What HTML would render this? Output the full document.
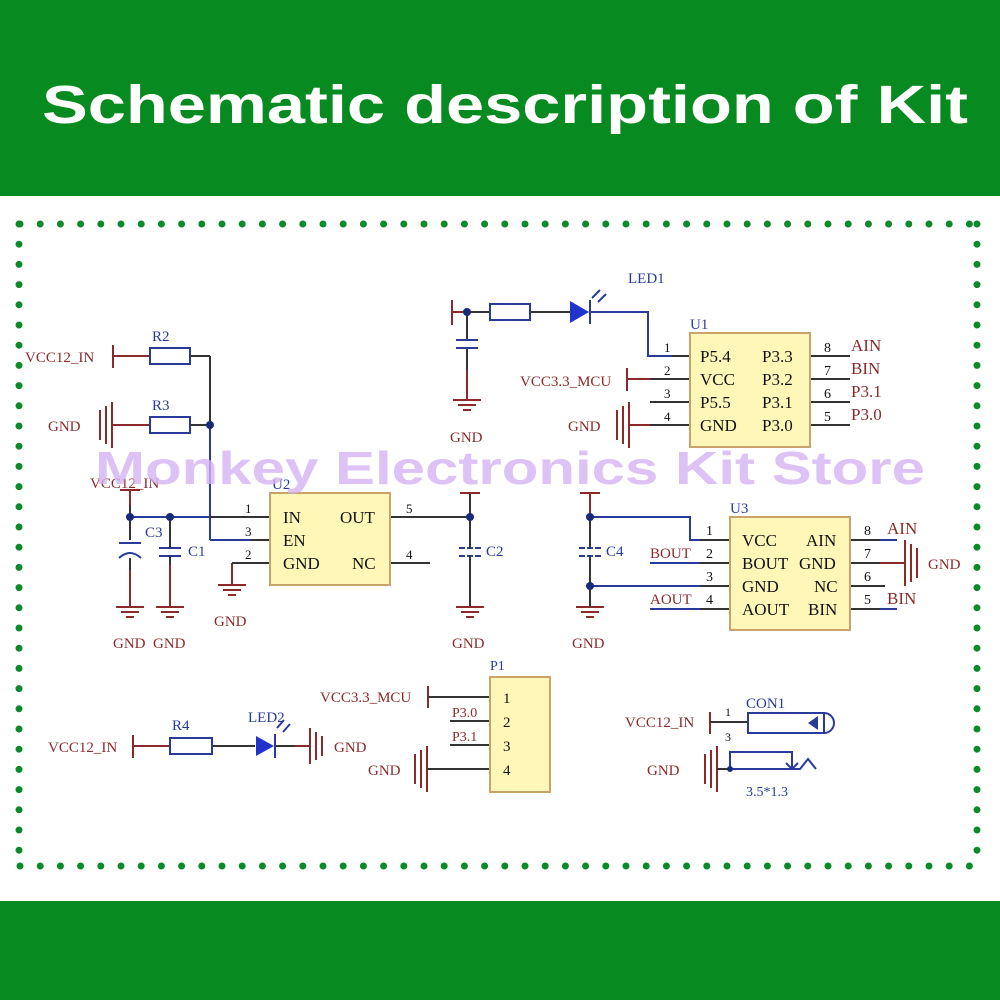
<!DOCTYPE html>
<html><head><meta charset="utf-8"><style>
body{margin:0;width:1000px;height:1000px;overflow:hidden;background:#fff}
svg{display:block}
.s{font-family:"Liberation Serif",serif;font-size:17px}
.r{fill:#8a2a2a}.b{fill:#2a3a9a}.k{fill:#111}
</style></head><body>
<svg width="1000" height="1000" viewBox="0 0 1000 1000" xmlns="http://www.w3.org/2000/svg">
<rect x="0" y="0" width="1000" height="196" fill="#078a1f"/>
<rect x="0" y="901" width="1000" height="99" fill="#078a1f"/>
<text x="505" y="123" text-anchor="middle" fill="#fff" font-family="Liberation Sans,sans-serif" font-weight="bold" font-size="54" textLength="926" lengthAdjust="spacingAndGlyphs">Schematic description of Kit</text>
<!-- dotted border -->
<g stroke="#0a8a28" stroke-width="7" stroke-linecap="round" stroke-dasharray="0 20.2" fill="none">
<line x1="20" y1="224" x2="977" y2="224"/>
<line x1="20" y1="866" x2="977" y2="866"/>
<line x1="19" y1="224" x2="19" y2="866"/>
<line x1="977" y1="224" x2="977" y2="866"/>
</g>
<g fill="none" stroke-width="2">
<!-- R2/R3 block -->
<g stroke="#8a2a2a"><line x1="113" y1="345" x2="113" y2="368"/><line x1="113" y1="356" x2="150" y2="356"/>
<line x1="100" y1="410" x2="100" y2="440"/><line x1="106" y1="406" x2="106" y2="444"/><line x1="112" y1="402" x2="112" y2="448"/><line x1="112" y1="425" x2="150" y2="425"/>
<line x1="130" y1="490" x2="130" y2="505"/><line x1="120" y1="490" x2="140" y2="490"/>
<line x1="130" y1="570" x2="130" y2="607"/><line x1="170" y1="565" x2="170" y2="607"/>
<line x1="232" y1="563" x2="232" y2="585"/></g>
<g stroke="#2a3a9a"><rect x="150" y="348" width="40" height="16" fill="#fff"/><rect x="150" y="417" width="40" height="16" fill="#fff"/>
<line x1="119" y1="543" x2="141" y2="543"/><path d="M119 558 Q130 548 141 558"/><line x1="159" y1="548" x2="181" y2="548"/><line x1="159" y1="556" x2="181" y2="556"/>
<line x1="459" y1="548" x2="481" y2="548" stroke-dasharray="6 2"/><line x1="459" y1="556" x2="481" y2="556" stroke-dasharray="6 2"/>
<line x1="130" y1="517" x2="210" y2="517"/><line x1="210" y1="425" x2="210" y2="540"/><line x1="210" y1="540" x2="250" y2="540"/>
</g>
<g stroke="#333"><line x1="190" y1="356" x2="210" y2="356"/><line x1="190" y1="425" x2="210" y2="425"/><line x1="210" y1="356" x2="210" y2="425"/>
<line x1="130" y1="505" x2="130" y2="540"/><line x1="170" y1="517" x2="170" y2="548"/><line x1="130" y1="558" x2="130" y2="570"/><line x1="170" y1="556" x2="170" y2="565"/>
<line x1="210" y1="517" x2="270" y2="517"/><line x1="250" y1="540" x2="270" y2="540"/><line x1="232" y1="563" x2="270" y2="563"/>
<line x1="390" y1="517" x2="470" y2="517"/><line x1="390" y1="563" x2="430" y2="563"/>
<line x1="470" y1="493" x2="470" y2="548"/><line x1="470" y1="556" x2="470" y2="607"/></g>
<line x1="460" y1="493" x2="480" y2="493" stroke="#8a2a2a"/>
<!-- grounds -->
<g stroke="#8a2a2a">
<path d="M116 607h28M121 612h18M126 617h8M156 607h28M161 612h18M166 617h8M218 585h28M223 590h18M228 595h8M456 607h28M461 612h18M466 617h8M576 607h28M581 612h18M586 617h8M453 400h28M458 405h18M463 410h8"/>
</g>
<rect x="270" y="493" width="120" height="92" fill="#fff7b8" stroke="#c9a46a"/>
<!-- top mid -->
<g stroke="#8a2a2a"><line x1="452" y1="300" x2="452" y2="325"/><line x1="452" y1="312" x2="467" y2="312"/><line x1="467" y1="370" x2="467" y2="400"/></g>
<g stroke="#333"><line x1="467" y1="312" x2="490" y2="312"/><line x1="530" y1="312" x2="570" y2="312"/><line x1="467" y1="312" x2="467" y2="340"/><line x1="467" y1="348" x2="467" y2="370"/></g>
<g stroke="#2a3a9a"><rect x="490" y="304" width="40" height="16" fill="#fff"/><line x1="456" y1="340" x2="478" y2="340"/><line x1="456" y1="348" x2="478" y2="348"/>
<path d="M590 312H648V356H672"/><line x1="590" y1="300" x2="590" y2="324"/><path d="M592 298l8-8M598 302l8-8"/></g>
<polygon points="570,301 570,323 589,312" fill="#2233cc"/>
<g stroke="#333"><line x1="672" y1="356" x2="690" y2="356"/><line x1="650" y1="379" x2="690" y2="379"/><line x1="650" y1="402" x2="690" y2="402"/><line x1="650" y1="425" x2="690" y2="425"/>
<line x1="810" y1="356" x2="850" y2="356"/><line x1="810" y1="379" x2="850" y2="379"/><line x1="810" y1="402" x2="850" y2="402"/><line x1="810" y1="425" x2="850" y2="425"/></g>
<g stroke="#8a2a2a"><line x1="627" y1="368" x2="627" y2="391"/><line x1="627" y1="379" x2="650" y2="379"/>
<line x1="617" y1="410" x2="617" y2="440"/><line x1="623" y1="406" x2="623" y2="444"/><line x1="629" y1="402" x2="629" y2="448"/><line x1="629" y1="425" x2="650" y2="425"/></g>
<rect x="690" y="333" width="120" height="114" fill="#fff7b8" stroke="#c9a46a"/>
<!-- U3 area -->
<g stroke="#8a2a2a"><line x1="580" y1="493" x2="600" y2="493"/><line x1="590" y1="493" x2="590" y2="517"/></g>
<g stroke="#333"><line x1="590" y1="517" x2="590" y2="548"/><line x1="590" y1="556" x2="590" y2="607"/>
<line x1="700" y1="540" x2="730" y2="540"/><line x1="700" y1="563" x2="730" y2="563"/><line x1="700" y1="586" x2="730" y2="586"/><line x1="700" y1="609" x2="730" y2="609"/>
<line x1="850" y1="540" x2="880" y2="540"/><line x1="850" y1="563" x2="880" y2="563"/><line x1="850" y1="586" x2="885" y2="586"/><line x1="850" y1="609" x2="880" y2="609"/></g>
<g stroke="#2a3a9a"><line x1="579" y1="548" x2="601" y2="548" stroke-dasharray="6 2"/><line x1="579" y1="556" x2="601" y2="556" stroke-dasharray="6 2"/>
<path d="M590 517H690V540H700"/><line x1="590" y1="586" x2="700" y2="586"/><line x1="650" y1="563" x2="700" y2="563"/><line x1="650" y1="609" x2="700" y2="609"/>
<line x1="880" y1="540" x2="897" y2="540"/><line x1="880" y1="609" x2="897" y2="609"/></g>
<g stroke="#8a2a2a"><line x1="880" y1="563" x2="905" y2="563"/><line x1="905" y1="540" x2="905" y2="586"/><line x1="911" y1="544" x2="911" y2="582"/><line x1="917" y1="548" x2="917" y2="578"/></g>
<rect x="730" y="517" width="120" height="113" fill="#fff7b8" stroke="#c9a46a"/>
<!-- bottom -->
<g stroke="#8a2a2a"><line x1="133" y1="735" x2="133" y2="758"/><line x1="133" y1="746" x2="170" y2="746"/>
<line x1="310" y1="728" x2="310" y2="764"/><line x1="316" y1="732" x2="316" y2="760"/><line x1="322" y1="736" x2="322" y2="756"/><line x1="295" y1="746" x2="310" y2="746"/>
<line x1="428" y1="686" x2="428" y2="708"/><line x1="415" y1="754" x2="415" y2="784"/><line x1="421" y1="750" x2="421" y2="788"/><line x1="427" y1="746" x2="427" y2="792"/>
<line x1="710" y1="712" x2="710" y2="734"/><line x1="705" y1="754" x2="705" y2="784"/><line x1="711" y1="750" x2="711" y2="788"/><line x1="717" y1="746" x2="717" y2="792"/></g>
<g stroke="#333"><line x1="212" y1="746" x2="255" y2="746"/><line x1="275" y1="746" x2="295" y2="746"/>
<line x1="428" y1="697" x2="490" y2="697"/><line x1="450" y1="721" x2="490" y2="721"/><line x1="450" y1="745" x2="490" y2="745"/><line x1="427" y1="769" x2="490" y2="769"/>
<line x1="710" y1="722" x2="748" y2="722"/><line x1="717" y1="769" x2="730" y2="769"/></g>
<g stroke="#2a3a9a"><rect x="170" y="738" width="42" height="16" fill="#fff"/><line x1="275" y1="734" x2="275" y2="758"/><path d="M277 728l7-8M283 732l7-8"/>
<rect x="748" y="713" width="76" height="20"/><path d="M824 713a10 10 0 0 1 0 20"/>
<path d="M730 769V752H792V769M730 769H800l8-10 8 10"/><path d="M786 763l6 6 6-6"/></g>
<polygon points="818,716 818,730 808,723" fill="#2a3a9a"/>
<polygon points="256,736 256,756 274,746" fill="#2233cc"/>
<rect x="490" y="677" width="60" height="115" fill="#fff7b8" stroke="#c9a46a"/>
</g>
<!-- dots -->
<g fill="#1a2a7a"><circle cx="210" cy="425" r="4"/><circle cx="130" cy="517" r="4"/><circle cx="170" cy="517" r="4"/><circle cx="470" cy="517" r="4"/><circle cx="467" cy="312" r="4"/><circle cx="590" cy="517" r="4"/><circle cx="590" cy="586" r="4"/><circle cx="730" cy="769" r="3"/></g>
<!-- text -->
<g class="s">
<text x="25" y="362" class="r" font-size="15">VCC12_IN</text>
<text x="152" y="341" class="b" font-size="15">R2</text><text x="152" y="410" class="b" font-size="15">R3</text>
<text x="48" y="431" class="r" font-size="15">GND</text>
<text x="90" y="488" class="r" font-size="15">VCC12_IN</text>
<text x="145" y="537" class="b" font-size="15">C3</text><text x="188" y="556" class="b" font-size="15">C1</text>
<text x="113" y="648" class="r" font-size="15">GND</text><text x="153" y="648" class="r" font-size="15">GND</text><text x="214" y="626" class="r" font-size="15">GND</text>
<text x="272" y="489" class="b" font-size="15">U2</text>
<text x="245" y="513" class="k" font-size="13">1</text><text x="245" y="536" class="k" font-size="13">3</text><text x="245" y="559" class="k" font-size="13">2</text>
<text x="283" y="523" class="k">IN</text><text x="283" y="546" class="k">EN</text><text x="283" y="569" class="k">GND</text>
<text x="340" y="523" class="k">OUT</text><text x="352" y="569" class="k">NC</text>
<text x="406" y="513" class="k" font-size="13">5</text><text x="406" y="559" class="k" font-size="13">4</text>
<text x="486" y="556" class="b" font-size="15">C2</text>
<text x="452" y="648" class="r" font-size="15">GND</text><text x="450" y="442" class="r" font-size="15">GND</text>
<text x="628" y="283" class="b" font-size="15">LED1</text><text x="690" y="329" class="b" font-size="15">U1</text>
<text x="664" y="352" class="k" font-size="13">1</text><text x="664" y="375" class="k" font-size="13">2</text><text x="664" y="398" class="k" font-size="13">3</text><text x="664" y="421" class="k" font-size="13">4</text>
<text x="700" y="362" class="k">P5.4</text><text x="700" y="385" class="k">VCC</text><text x="700" y="408" class="k">P5.5</text><text x="700" y="431" class="k">GND</text>
<text x="762" y="362" class="k">P3.3</text><text x="762" y="385" class="k">P3.2</text><text x="762" y="408" class="k">P3.1</text><text x="762" y="431" class="k">P3.0</text>
<text x="824" y="352" class="k" font-size="14">8</text><text x="824" y="375" class="k" font-size="14">7</text><text x="824" y="398" class="k" font-size="14">6</text><text x="824" y="421" class="k" font-size="14">5</text>
<text x="851" y="351" class="r">AIN</text><text x="851" y="374" class="r">BIN</text><text x="851" y="397" class="r">P3.1</text><text x="851" y="420" class="r">P3.0</text>
<text x="520" y="386" class="r" font-size="15">VCC3.3_MCU</text><text x="568" y="431" class="r" font-size="15">GND</text>
<text x="606" y="556" class="b" font-size="15">C4</text><text x="572" y="648" class="r" font-size="15">GND</text>
<text x="730" y="513" class="b" font-size="15">U3</text>
<text x="706" y="535" class="k" font-size="14">1</text><text x="706" y="558" class="k" font-size="14">2</text><text x="706" y="581" class="k" font-size="14">3</text><text x="706" y="604" class="k" font-size="14">4</text>
<text x="650" y="558" class="r" font-size="15">BOUT</text><text x="650" y="604" class="r" font-size="15">AOUT</text>
<text x="742" y="546" class="k">VCC</text><text x="742" y="569" class="k">BOUT</text><text x="742" y="592" class="k">GND</text><text x="742" y="615" class="k">AOUT</text>
<text x="806" y="546" class="k">AIN</text><text x="799" y="569" class="k">GND</text><text x="814" y="592" class="k">NC</text><text x="808" y="615" class="k">BIN</text>
<text x="864" y="535" class="k" font-size="14">8</text><text x="864" y="558" class="k" font-size="14">7</text><text x="864" y="581" class="k" font-size="14">6</text><text x="864" y="604" class="k" font-size="14">5</text>
<text x="887" y="534" class="r">AIN</text><text x="887" y="604" class="r">BIN</text><text x="928" y="569" class="r" font-size="15">GND</text>
<text x="48" y="752" class="r" font-size="15">VCC12_IN</text><text x="172" y="730" class="b" font-size="15">R4</text><text x="248" y="722" class="b" font-size="15">LED2</text>
<text x="334" y="752" class="r" font-size="15">GND</text>
<text x="490" y="670" class="b" font-size="14">P1</text>
<text x="320" y="702" class="r" font-size="15">VCC3.3_MCU</text><text x="368" y="775" class="r" font-size="15">GND</text>
<text x="452" y="717" class="r" font-size="14">P3.0</text><text x="452" y="741" class="r" font-size="14">P3.1</text>
<text x="503" y="703" class="k" font-size="15">1</text><text x="503" y="727" class="k" font-size="15">2</text><text x="503" y="751" class="k" font-size="15">3</text><text x="503" y="775" class="k" font-size="15">4</text>
<text x="746" y="708" class="b" font-size="15">CON1</text><text x="625" y="727" class="r" font-size="15">VCC12_IN</text><text x="647" y="775" class="r" font-size="15">GND</text>
<text x="725" y="716" class="k" font-size="12">1</text><text x="725" y="741" class="k" font-size="12">3</text>
<text x="746" y="796" class="b" font-size="14">3.5*1.3</text>
</g>
<text x="510" y="484" text-anchor="middle" fill="#d3b3f2" fill-opacity="0.8" font-family="Liberation Sans,sans-serif" font-weight="bold" font-size="46" textLength="830" lengthAdjust="spacingAndGlyphs">Monkey Electronics Kit Store</text>
</svg>
</body></html>
